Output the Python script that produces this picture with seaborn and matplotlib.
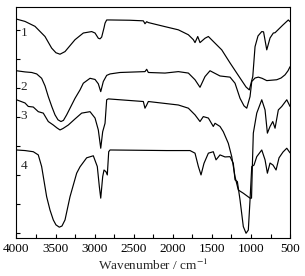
import numpy as np
import pandas as pd
import matplotlib
matplotlib.use("Agg")
import matplotlib.pyplot as plt
from matplotlib.ticker import MultipleLocator
import seaborn as sns

# wavenumbers (cm-1) and transmittance (offset, arbitrary units)
wn_1 = [4000, 3891, 3763, 3635, 3550, 3495, 3443, 3379, 3251, 3145, 3038, 2995, 2953, 2931,
        2910, 2880, 2867, 2846, 2803, 2548, 2377, 2356, 2334, 2313, 2100, 1929, 1801, 1737,
        1716, 1681, 1652, 1588, 1545, 1482, 1374, 1268, 1140, 1063, 1021, 977, 948, 910,
        862, 839, 798, 756, 714, 692, 628, 590, 522, 500]
t_1 = [7.37, 7.29, 7.12, 6.77, 6.37, 6.21, 6.16, 6.25, 6.66, 6.89, 6.94, 6.89, 6.71, 6.69,
       6.75, 7.07, 7.23, 7.34, 7.34, 7.33, 7.31, 7.21, 7.28, 7.25, 7.11, 7.00, 6.83, 6.66,
       6.56, 6.77, 6.56, 6.71, 6.77, 6.60, 6.31, 5.86, 5.34, 5.03, 4.93, 5.39, 6.42, 6.79,
       6.94, 6.93, 6.31, 6.72, 6.89, 6.90, 7.07, 7.17, 7.34, 7.28]

wn_2 = [4000, 3891, 3805, 3741, 3678, 3635, 3593, 3546, 3507, 3469, 3431, 3399, 3358, 3251,
        3187, 3145, 3059, 2995, 2953, 2922, 2889, 2846, 2803, 2676, 2356, 2334, 2313, 2100,
        1929, 1801, 1716, 1652, 1588, 1524, 1482, 1396, 1268, 1204, 1140, 1089, 1054, 1012,
        990, 948, 906, 858, 798, 670, 615, 564, 526, 500]
t_2 = [5.59, 5.55, 5.53, 5.48, 5.33, 5.07, 4.70, 4.34, 4.07, 3.90, 3.84, 3.88, 4.07, 4.64,
       4.93, 5.16, 5.33, 5.29, 5.14, 4.87, 5.22, 5.43, 5.48, 5.53, 5.56, 5.64, 5.53, 5.51,
       5.56, 5.51, 5.28, 5.02, 5.39, 5.59, 5.53, 5.41, 5.37, 5.16, 4.64, 4.38, 4.30, 4.70,
       5.22, 5.34, 5.37, 5.33, 5.25, 5.28, 5.34, 5.45, 5.59, 5.73]

wn_3 = [4000, 3891, 3849, 3785, 3721, 3657, 3593, 3529, 3482, 3443, 3405, 3337, 3251, 3166,
        3059, 2995, 2953, 2922, 2897, 2867, 2846, 2825, 2377, 2356, 2334, 2313, 1929, 1801,
        1716, 1652, 1610, 1545, 1482, 1460, 1396, 1354, 1290, 1246, 1204, 1162, 1098, 1012,
        993, 980, 970, 926, 862, 820, 790, 756, 721, 692, 650, 606, 542, 500]
t_3 = [4.59, 4.48, 4.36, 4.34, 4.18, 4.13, 3.84, 3.72, 3.62, 3.55, 3.60, 3.72, 3.93, 4.13,
       4.18, 3.96, 3.55, 2.92, 3.49, 3.78, 4.59, 4.62, 4.53, 4.30, 4.41, 4.53, 4.41, 4.30,
       4.07, 3.84, 4.01, 3.96, 3.67, 3.78, 3.67, 3.49, 3.09, 2.63, 1.94, 1.48, 1.37, 1.20,
       1.20, 2.52, 3.44, 4.13, 4.59, 4.24, 3.44, 3.67, 3.84, 3.61, 4.24, 4.36, 4.59, 4.36]

wn_4 = [4000, 3891, 3785, 3721, 3678, 3614, 3571, 3529, 3495, 3452, 3418, 3379, 3315, 3230,
        3187, 3102, 3017, 2966, 2940, 2922, 2897, 2880, 2855, 2838, 2820, 2803, 2078, 1780,
        1716, 1673, 1639, 1601, 1545, 1482, 1447, 1396, 1332, 1268, 1226, 1204, 1174, 1140,
        1098, 1063, 1034, 1012, 990, 961, 926, 862, 820, 790, 756, 718, 679, 641, 590, 542, 500]
t_4 = [2.86, 2.84, 2.80, 2.69, 2.29, 1.25, 0.79, 0.45, 0.28, 0.20, 0.24, 0.45, 1.25, 2.06,
       2.28, 2.59, 2.66, 2.29, 1.60, 1.20, 1.94, 2.17, 2.11, 2.00, 2.80, 2.86, 2.84, 2.84,
       2.75, 2.29, 2.00, 2.40, 2.75, 2.80, 2.52, 2.69, 2.62, 2.63, 2.40, 1.83, 1.77, 1.14,
       0.22, -0.01, 0.10, 1.14, 2.29, 2.34, 2.63, 2.86, 2.52, 2.06, 2.41, 2.34, 2.17, 2.59,
       2.79, 2.92, 2.76]

curve_names = ["1", "2", "3", "4"]
label_wn = [3905, 3905, 3905, 3905]
label_t = [6.90, 5.03, 4.03, 2.31]

frames = []
for name, wn, t in zip(curve_names, [wn_1, wn_2, wn_3, wn_4], [t_1, t_2, t_3, t_4]):
    frames.append(pd.DataFrame({"wn": wn, "t": t, "sample": name}))
df = pd.concat(frames, ignore_index=True)

sns.set_style("ticks")
plt.rcParams["font.family"] = ["Liberation Serif", "DejaVu Serif"]
plt.rcParams["mathtext.fontset"] = "stix"

fig = plt.figure(figsize=(3.05, 2.76), dpi=100)
ax = fig.add_axes([0.054, 0.138, 0.897, 0.837])

sns.lineplot(data=df, x="wn", y="t", hue="sample", units="sample", estimator=None,
             sort=False, palette=["black"] * 4, linewidth=0.85, legend=False, ax=ax)

for name, x, y in zip(curve_names, label_wn, label_t):
    ax.text(x, y, name, fontsize=9.5, ha="center", va="center")

ax.set_xlim(4000, 500)
ax.set_ylim(-0.17, 7.79)
ax.xaxis.set_major_locator(MultipleLocator(500))
ax.xaxis.set_minor_locator(MultipleLocator(250))
ax.yaxis.set_major_locator(MultipleLocator(1))
ax.tick_params(axis="both", which="both", direction="in", length=3, width=0.8,
               labelsize=9.5, pad=3.5, colors="black")
ax.tick_params(axis="y", which="both", labelleft=False)
for sp in ax.spines.values():
    sp.set_linewidth(0.8)
    sp.set_color("black")
ax.set_xlabel("Wavenumber / cm$^{-1}$", fontsize=9.5, labelpad=2.5)
ax.set_ylabel("")

fig.savefig("out.png", dpi=100)
